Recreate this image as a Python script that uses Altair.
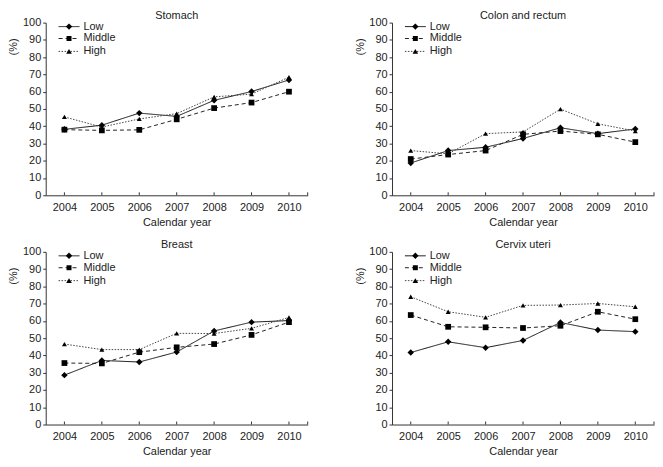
import altair as alt
import pandas as pd

years = [2004, 2005, 2006, 2007, 2008, 2009, 2010]
series_names = ["Low", "Middle", "High"]

stomach_low = [38.2, 40.6, 47.6, 45.7, 55.0, 60.1, 66.8]
stomach_middle = [38.0, 37.6, 37.9, 44.0, 50.5, 53.7, 60.0]
stomach_high = [45.4, 39.5, 44.2, 47.3, 57.0, 58.6, 68.4]

colon_low = [18.7, 25.9, 27.8, 32.9, 39.1, 35.7, 38.4]
colon_middle = [21.0, 23.6, 25.9, 35.3, 37.2, 35.3, 30.8]
colon_high = [25.9, 24.0, 35.7, 36.7, 49.9, 41.4, 37.2]

breast_low = [28.6, 37.1, 36.2, 42.0, 54.2, 59.3, 60.2]
breast_middle = [35.6, 35.4, 41.9, 44.7, 46.6, 51.9, 59.3]
breast_high = [46.6, 43.4, 43.4, 52.8, 52.7, 55.7, 62.0]

cervix_low = [41.7, 47.9, 44.5, 48.7, 59.1, 54.7, 53.8]
cervix_middle = [63.4, 56.6, 56.3, 55.9, 57.2, 65.3, 61.0]
cervix_high = [74.0, 65.3, 62.1, 69.0, 69.2, 70.1, 68.2]

y_ticks = list(range(0, 101, 10))

W = 264
H = 174
FONT = "Liberation Sans"

dash_range = [[1, 0], [4, 3], [1.5, 1.5]]
color_range = ["#111111", "#222222", "#444444"]
shape_range = ["diamond", "square", "triangle-up"]
size_range = [42, 25, 32]


def panel(title, low, mid, high):
    rows = []
    for s, vals in zip(series_names, [low, mid, high]):
        for y, v in zip(years, vals):
            rows.append({"year": y, "value": v, "series": s})
    df = pd.DataFrame(rows)

    x_enc = alt.X(
        "year:O",
        scale=alt.Scale(type="point", padding=0.5),
        axis=alt.Axis(title="Calendar year", labelAngle=0, ticks=False,
                      labelPadding=6, titlePadding=4),
    )
    ax = alt.Axis(values=y_ticks, labelOverlap=False, title="(%)",
                  grid=False, tickSize=3, labelPadding=2, titleX=-32, titleY=24,
                  titleBaseline="middle", titleAngle=270)
    y_enc = alt.Y("value:Q", scale=alt.Scale(domain=[0, 100], nice=False), axis=ax)
    dash = alt.StrokeDash("series:N", scale=alt.Scale(domain=series_names, range=dash_range), legend=None)
    col = alt.Color("series:N", scale=alt.Scale(domain=series_names, range=color_range), legend=None)

    base = alt.Chart(df)
    lines = base.mark_line(strokeWidth=1).encode(x=x_enc, y=y_enc, strokeDash=dash, color=col,
                                                 detail="series:N")
    points = base.mark_point(filled=True, opacity=1, color="#000000").encode(
        x=x_enc, y=y_enc,
        shape=alt.Shape("series:N", scale=alt.Scale(domain=series_names, range=shape_range), legend=None),
        size=alt.Size("series:N", scale=alt.Scale(domain=series_names, range=size_range), legend=None),
    )
    ticks = alt.Chart(pd.DataFrame({"year": years})).mark_rule(color="#333333", strokeWidth=1).encode(
        x=x_enc, y=alt.value(H), y2=alt.value(H - 3)
    )
    end_tick = alt.Chart(pd.DataFrame({"a": [0]})).mark_rule(color="#333333", strokeWidth=1).encode(
        x=alt.value(W), y=alt.value(H), y2=alt.value(H - 3)
    )

    layers = [lines, points, ticks, end_tick]
    one = pd.DataFrame({"a": [0]})
    row_y = [4, 16, 29]
    for i, s in enumerate(series_names):
        ly = row_y[i]
        layers.append(alt.Chart(one).mark_rule(strokeWidth=1, color=color_range[i],
                                               strokeDash=dash_range[i]).encode(
            x=alt.value(13), x2=alt.value(34), y=alt.value(ly)))
        layers.append(alt.Chart(one).mark_point(filled=True, opacity=1, color="#000000",
                                                shape=shape_range[i], size=size_range[i]).encode(
            x=alt.value(23.5), y=alt.value(ly)))
        layers.append(alt.Chart(one).mark_text(text=s, align="left", baseline="middle",
                                               font=FONT, fontSize=11, color="#222222").encode(
            x=alt.value(38), y=alt.value(ly)))

    return alt.layer(*layers).properties(
        width=W, height=H,
        title=alt.TitleParams(title, fontSize=11, fontWeight="normal", font=FONT,
                              color="#222222", anchor="middle", offset=-4),
    )


top = alt.hconcat(
    panel("Stomach", stomach_low, stomach_middle, stomach_high),
    panel("Colon and rectum", colon_low, colon_middle, colon_high),
    spacing=46,
)
bottom = alt.hconcat(
    panel("Breast", breast_low, breast_middle, breast_high),
    panel("Cervix uteri", cervix_low, cervix_middle, cervix_high),
    spacing=46,
)
chart = alt.vconcat(top, bottom, spacing=12).properties(padding=0).configure_view(
    stroke=None
).configure_axis(
    labelFont=FONT, titleFont=FONT, labelFontSize=11, titleFontSize=11,
    labelColor="#222222", titleColor="#222222", titleFontWeight="normal",
    domainColor="#333333", tickColor="#333333", domainWidth=1, tickWidth=1,
).configure_concat(spacing=12)

chart.save("out.html", embed_options={"renderer": "svg", "actions": False})
